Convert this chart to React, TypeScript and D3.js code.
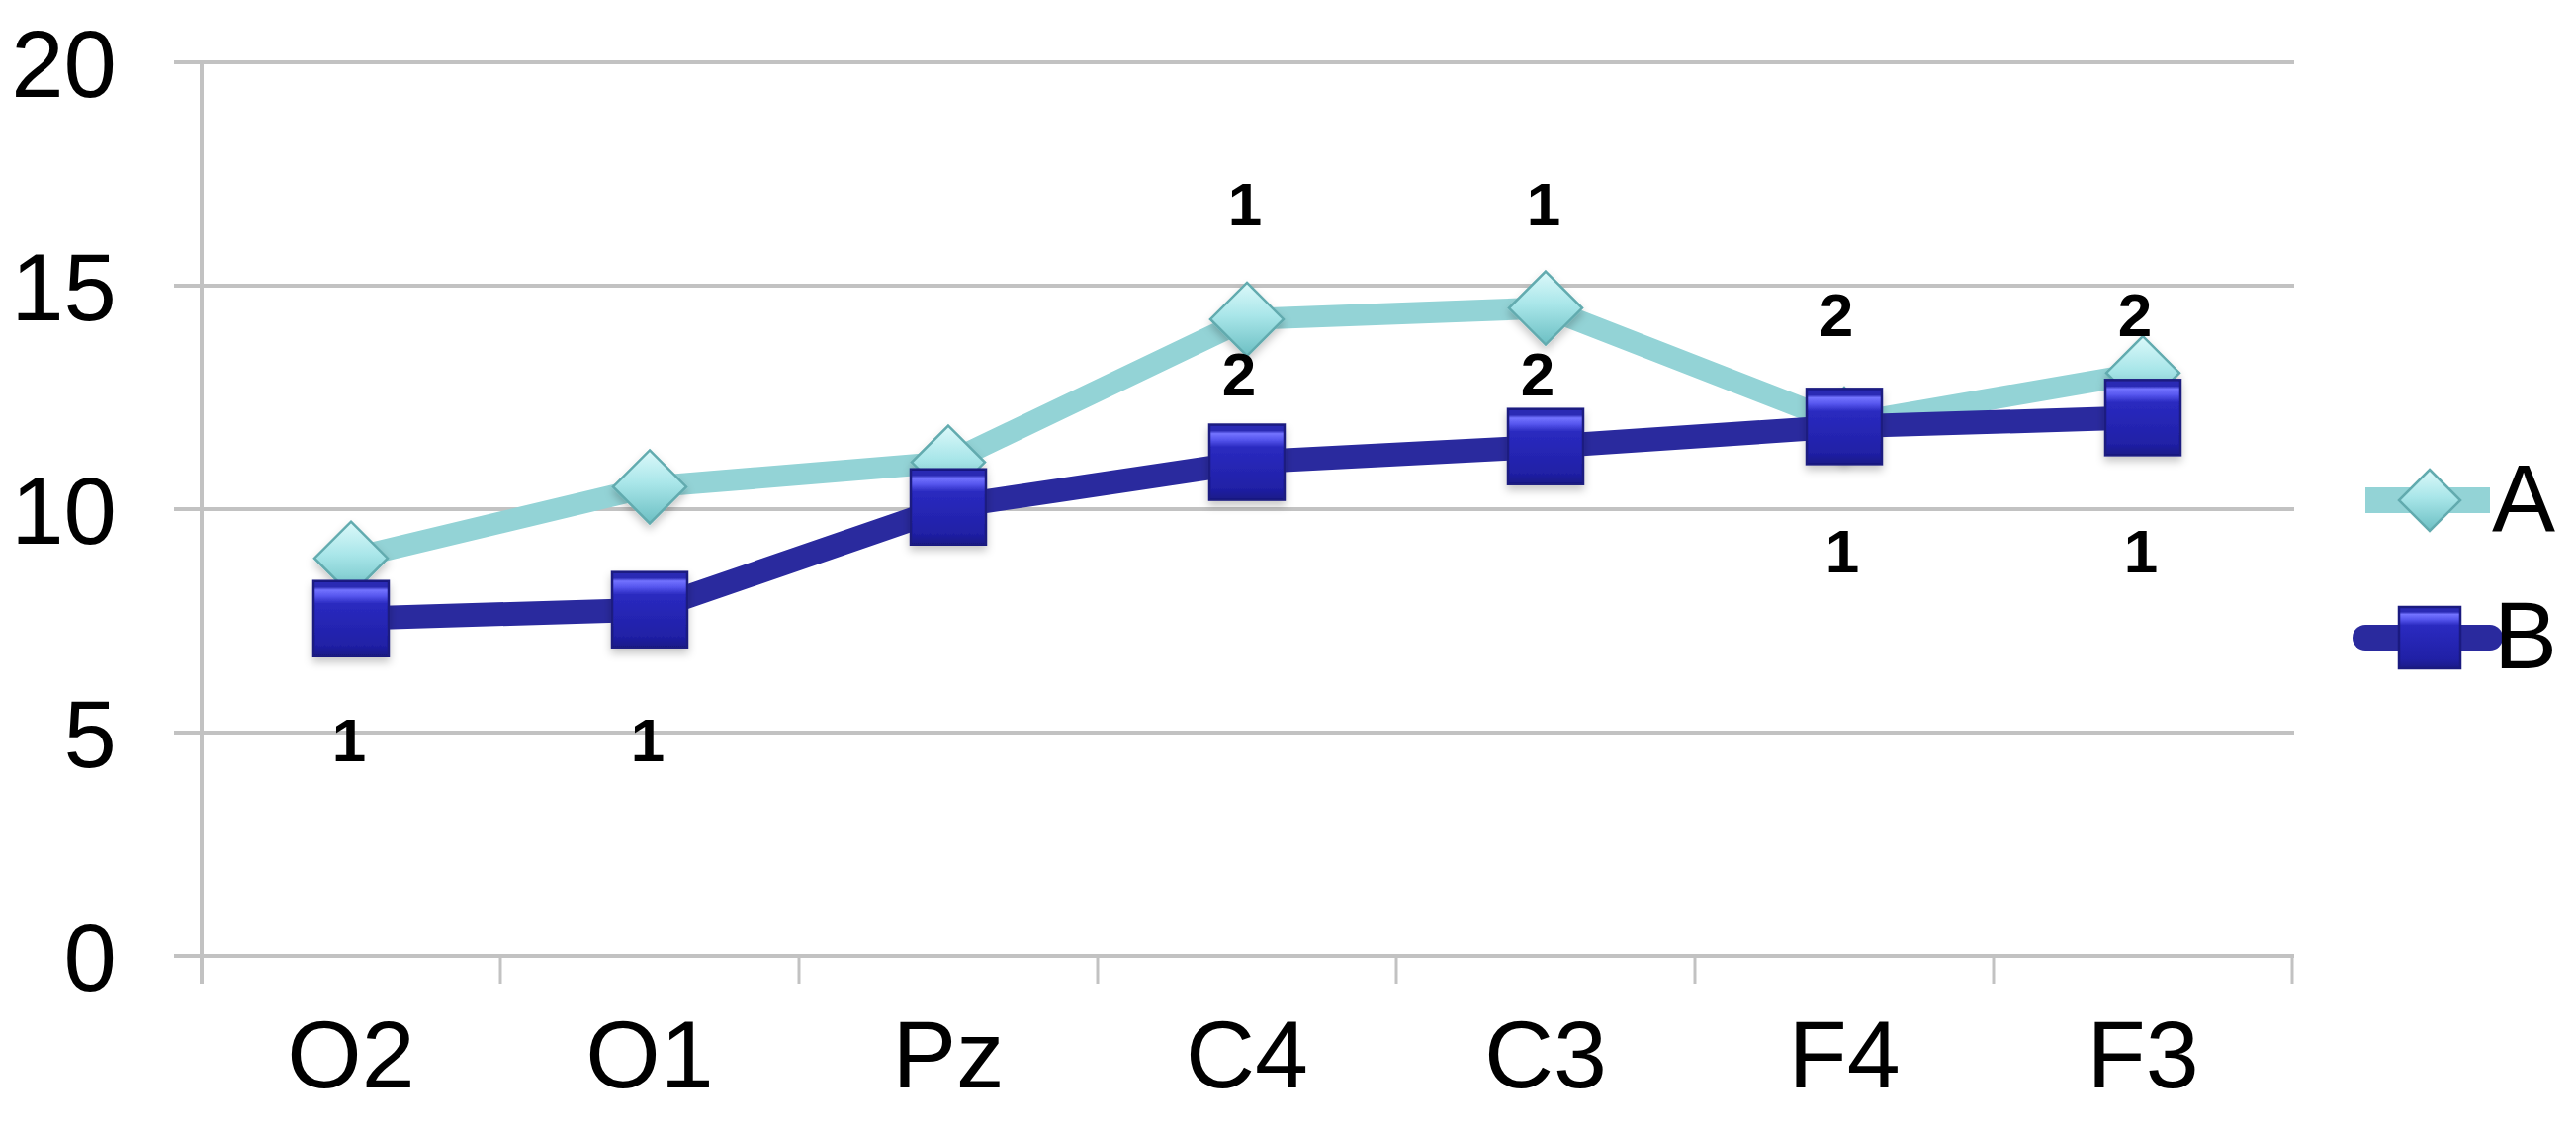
import React from "react";
import * as d3 from "d3";

const categories = ["O2", "O1", "Pz", "C4", "C3", "F4", "F3"];
const seriesA = [8.9, 10.5, 11.05, 14.25, 14.5, 11.9, 13.05];
const seriesB = [7.55, 7.75, 10.05, 11.05, 11.4, 11.85, 12.05];
const yTicks = [0, 5, 10, 15, 20];
const annotCats = ["O2", "O1", "C4", "C4", "C3", "C3", "F4", "F4", "F3", "F3"];
const annotVals = [4.85, 4.85, 16.85, 13.03, 16.85, 13.03, 14.36, 9.07, 14.36, 9.07];
const annotText = ["1", "1", "1", "2", "1", "2", "2", "1", "2", "1"];

const W = 2605;
const H = 1142;
const FONT = "'Liberation Sans', Arial, Helvetica, sans-serif";

export default function App() {
  const x = d3.scaleBand<string>().domain(categories).range([204, 2318]);
  const cx = (c: string) => (x(c) as number) + x.bandwidth() / 2;
  const y = d3.scaleLinear().domain([0, 20]).range([967, 63]);

  const line = d3
    .line<number>()
    .x((_, i) => cx(categories[i]))
    .y((v) => y(v));

  const diamondSize = 37;
  const sqSize = 38;
  const diamond = (px: number, py: number, r: number) =>
    `M${px},${py - r}L${px + r},${py}L${px},${py + r}L${px - r},${py}Z`;

  const tickXs = d3.range(categories.length + 1).map((i) => 204 + i * x.bandwidth());

  return (
    <svg
      width={W}
      height={H}
      style={{ position: "absolute", left: 0, top: 0, background: "#fff" }}
      fontFamily={FONT}
    >
      <defs>
        <linearGradient id="gA" x1="0" y1="0" x2="0" y2="1">
          <stop offset="0" stopColor="#dcf9fa" />
          <stop offset="0.45" stopColor="#a9e6e9" />
          <stop offset="1" stopColor="#6cbfc3" />
        </linearGradient>
        <linearGradient id="gB" x1="0" y1="0" x2="0" y2="1">
          <stop offset="0" stopColor="#2a2ab4" />
          <stop offset="0.08" stopColor="#2a2ab4" />
          <stop offset="0.12" stopColor="#7373ff" />
          <stop offset="0.2" stopColor="#5656ee" />
          <stop offset="0.3" stopColor="#2a2ac0" />
          <stop offset="0.85" stopColor="#2020a6" />
          <stop offset="1" stopColor="#1a1a88" />
        </linearGradient>
        <filter id="shadow" x="-30%" y="-30%" width="160%" height="170%">
          <feDropShadow dx="0" dy="5" stdDeviation="4" floodColor="#000" floodOpacity="0.22" />
        </filter>
      </defs>

      {/* gridlines */}
      {yTicks.map((t) => (
        <line key={"g" + t} x1={176} x2={2320} y1={y(t)} y2={y(t)} stroke="#c2c2c2" strokeWidth={4} />
      ))}
      {/* y axis */}
      <line x1={204} x2={204} y1={y(20)} y2={y(0) + 28} stroke="#c2c2c2" strokeWidth={4} />
      {/* x ticks */}
      {tickXs.map((tx, i) => (
        <line key={"t" + i} x1={tx} x2={tx} y1={y(0)} y2={y(0) + 28} stroke="#c2c2c2" strokeWidth={3} />
      ))}

      {/* y labels */}
      {yTicks.map((t) => (
        <text key={"yl" + t} x={118} y={y(t)} dy="0.36em" textAnchor="end" fontSize={96} fill="#000">
          {t}
        </text>
      ))}
      {/* x labels */}
      {categories.map((c) => (
        <text key={"xl" + c} x={cx(c)} y={1100} textAnchor="middle" fontSize={97} fill="#000">
          {c}
        </text>
      ))}

      {/* series A */}
      <path d={line(seriesA) || ""} fill="none" stroke="#93d3d6" strokeWidth={22} strokeLinejoin="round" />
      {seriesA.map((v, i) => (
        <path
          key={"a" + i}
          d={diamond(cx(categories[i]), y(v), diamondSize)}
          fill="url(#gA)"
          stroke="#62abaf"
          strokeWidth={2.5}
          filter="url(#shadow)"
        />
      ))}

      {/* series B */}
      <path d={line(seriesB) || ""} fill="none" stroke="#2a2a9e" strokeWidth={24} strokeLinejoin="round" />
      {seriesB.map((v, i) => (
        <rect
          key={"b" + i}
          x={cx(categories[i]) - sqSize}
          y={y(v) - sqSize}
          width={sqSize * 2}
          height={sqSize * 2}
          fill="url(#gB)"
          stroke="#1a1a80"
          strokeWidth={2.5}
          filter="url(#shadow)"
        />
      ))}

      {/* annotations */}
      {annotText.map((t, i) => (
        <text
          key={"an" + i}
          x={cx(annotCats[i]) - (t === "2" ? 8 : 2)}
          y={y(annotVals[i])}
          dy="0.36em"
          textAnchor="middle"
          fontSize={62}
          fontWeight="bold"
          fill="#000"
        >
          {t}
        </text>
      ))}

      {/* legend */}
      <g>
        <line x1={2392} x2={2518} y1={506} y2={506} stroke="#93d3d6" strokeWidth={26} />
        <path d={diamond(2457, 506, 31)} fill="url(#gA)" stroke="#62abaf" strokeWidth={2.5} />
        <text x={2520} y={537} fontSize={96} fill="#000">A</text>
        <line x1={2392} x2={2518} y1={645} y2={645} stroke="#2a2a9e" strokeWidth={26} strokeLinecap="round" />
        <rect x={2426} y={614} width={62} height={62} fill="url(#gB)" stroke="#1a1a80" strokeWidth={2.5} />
        <text x={2522} y={676} fontSize={96} fill="#000">B</text>
      </g>
    </svg>
  );
}
